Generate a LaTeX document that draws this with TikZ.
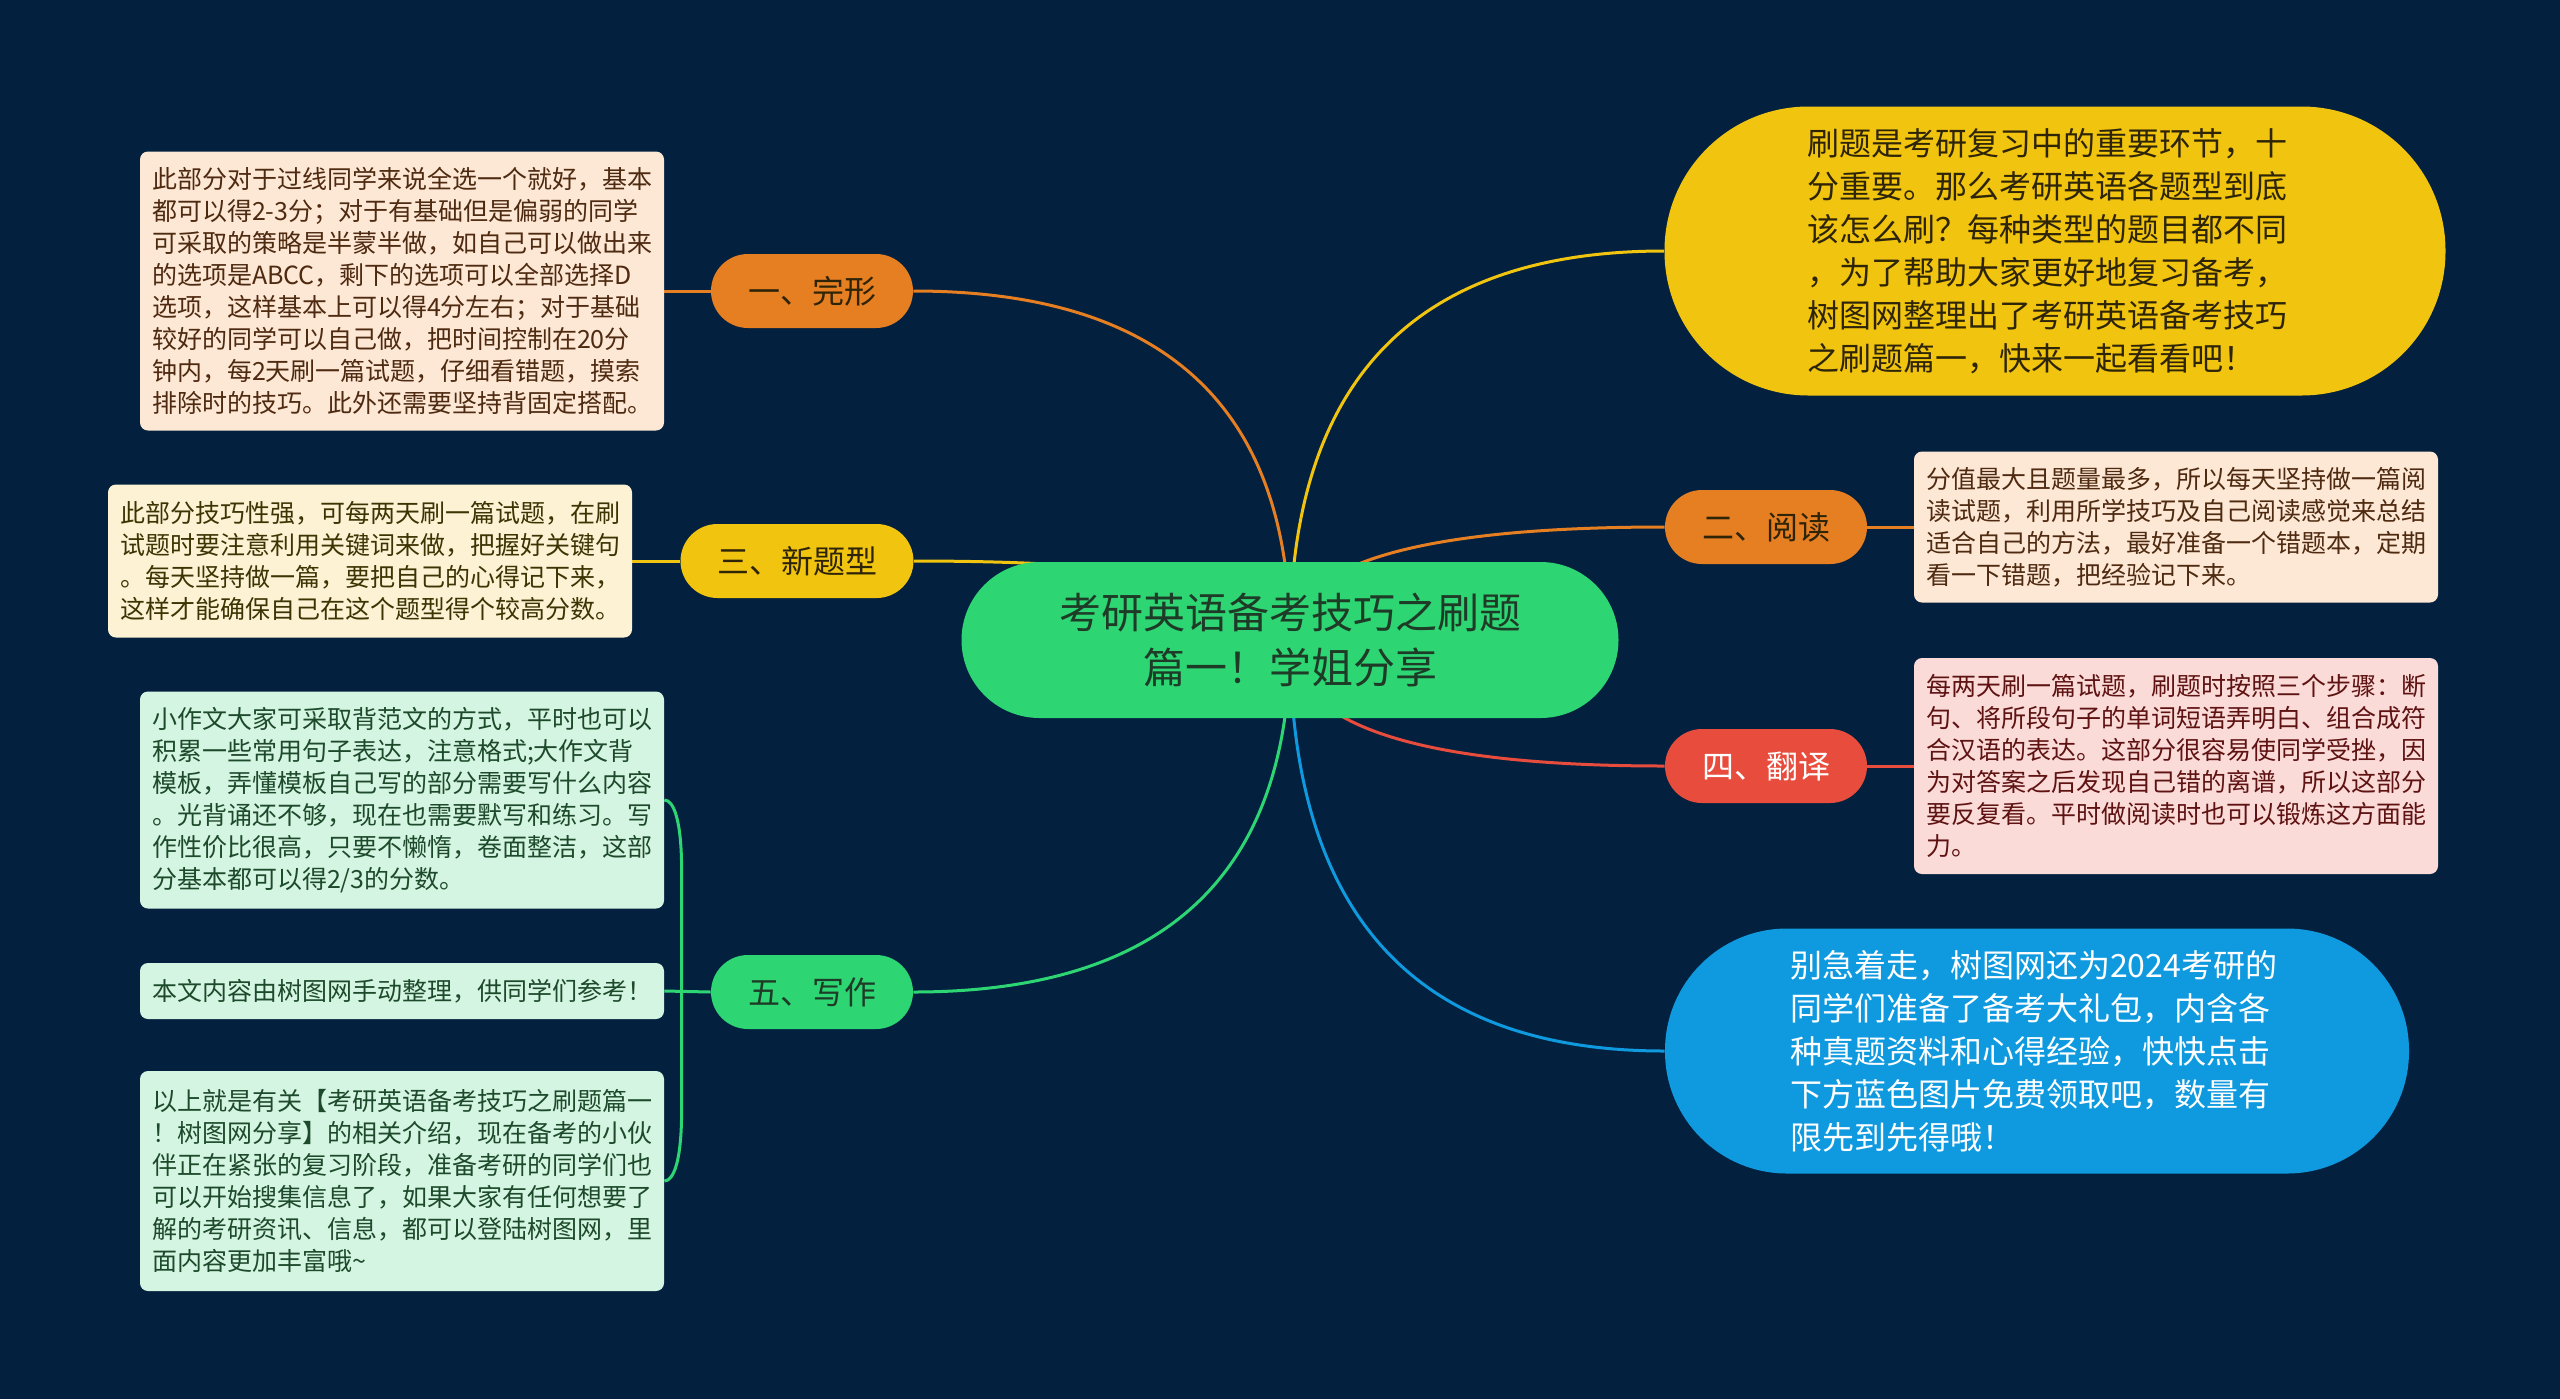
\documentclass[tikz,border=0pt]{standalone}
\usepackage{fontspec}
\newfontfamily\cjk{Noto Sans CJK SC}
\usetikzlibrary{calc,backgrounds}
\definecolor{bgc}{HTML}{03213F}
\definecolor{oran}{HTML}{E67E22}
\definecolor{yelw}{HTML}{F1C40F}
\definecolor{gren}{HTML}{2ED573}
\definecolor{redd}{HTML}{E74C3C}
\definecolor{blueb}{HTML}{0F9ADF}
\definecolor{peach}{HTML}{FDE7D5}
\definecolor{cream}{HTML}{FDF3D4}
\definecolor{pinkb}{HTML}{FADBD8}
\definecolor{mint}{HTML}{D5F5E3}
\definecolor{tpeach}{HTML}{4E2A10}
\definecolor{tcream}{HTML}{3D3404}
\definecolor{tpink}{HTML}{5E1212}
\definecolor{tmint}{HTML}{1D4A2B}
\definecolor{troot}{HTML}{1E3B27}
\definecolor{tdark}{HTML}{2E2408}
\tikzset{
  conn/.style={line width=1.5pt},
  qcurve/.style={to path={.. controls ($(\tikztostart)!0.667!(\tikztostart |- \tikztotarget)$) and ($(\tikztotarget)!0.667!(\tikztostart |- \tikztotarget)$) .. (\tikztotarget)}},
  lbl/.style={inner sep=0pt, minimum height=37pt, minimum width=101pt, rounded corners=18.5pt, font=\cjk\fontsize{16pt}{20pt}\selectfont},
  note/.style={inner xsep=6pt, inner ysep=0pt, text width=250pt, align=left, rounded corners=4pt, font=\cjk\fontsize{12.5pt}{16pt}\selectfont},
  bigpill/.style={inner sep=0pt, align=left, font=\cjk\fontsize{16pt}{21.5pt}\selectfont},
}
\begin{document}
\begin{tikzpicture}[x=0.5pt,y=-0.5pt]
\useasboundingbox (0,0) rectangle (2560,1399);
% root
\node[inner sep=0pt, fill=gren, minimum width=328.5pt, minimum height=78pt, rounded corners=39pt, align=center, text=troot, font=\cjk\fontsize{21pt}{27.5pt}\selectfont] (root) at (1290,640) {考研英语备考技巧之刷题\\篇一！学姐分享};
% branches
\node[lbl, fill=oran, text=tdark] (b1) at (812,291) {一、完形};
\node[lbl, fill=yelw, text=tdark, minimum width=116.5pt] (b3) at (797,561) {三、新题型};
\node[lbl, fill=gren, text=troot] (b5) at (812,992) {五、写作};
\node[lbl, fill=oran, text=tdark] (b2) at (1766,527) {二、阅读};
\node[lbl, fill=redd, text=white] (b4) at (1766,766) {四、翻译};
\node[bigpill, fill=yelw, text=tdark, minimum width=390.5pt, minimum height=144.5pt, rounded corners=72pt, text width=248pt] (intro) at (2055,251) {刷题是考研复习中的重要环节，十\\分重要。那么考研英语各题型到底\\该怎么刷？每种类型的题目都不同\\，为了帮助大家更好地复习备考，\\树图网整理出了考研英语备考技巧\\之刷题篇一，快来一起看看吧！};
\node[bigpill, fill=blueb, text=white, minimum width=372pt, minimum height=122.5pt, rounded corners=61pt, text width=247pt] (gift) at (2037,1051) {别急着走，树图网还为2024考研的\\同学们准备了备考大礼包，内含各\\种真题资料和心得经验，快快点击\\下方蓝色图片免费领取吧，数量有\\限先到先得哦！};
% notes
\node[note, fill=peach, text=tpeach, minimum height=139.5pt] (n1) at (402,291) {此部分对于过线同学来说全选一个就好，基本\\都可以得2-3分；对于有基础但是偏弱的同学\\可采取的策略是半蒙半做，如自己可以做出来\\的选项是ABCC，剩下的选项可以全部选择D\\选项，这样基本上可以得4分左右；对于基础\\较好的同学可以自己做，把时间控制在20分\\钟内，每2天刷一篇试题，仔细看错题，摸索\\排除时的技巧。此外还需要坚持背固定搭配。};
\node[note, fill=cream, text=tcream, minimum height=76.5pt] (n3) at (370,561) {此部分技巧性强，可每两天刷一篇试题，在刷\\试题时要注意利用关键词来做，把握好关键句\\。每天坚持做一篇，要把自己的心得记下来，\\这样才能确保自己在这个题型得个较高分数。};
\node[note, fill=mint, text=tmint, minimum height=108.5pt] (n5a) at (402,800) {小作文大家可采取背范文的方式，平时也可以\\积累一些常用句子表达，注意格式;大作文背\\模板，弄懂模板自己写的部分需要写什么内容\\。光背诵还不够，现在也需要默写和练习。写\\作性价比很高，只要不懒惰，卷面整洁，这部\\分基本都可以得2/3的分数。};
\node[note, fill=mint, text=tmint, minimum height=28pt] (n5b) at (402,991) {本文内容由树图网手动整理，供同学们参考！};
\node[note, fill=mint, text=tmint, minimum height=110pt] (n5c) at (402,1181) {以上就是有关【考研英语备考技巧之刷题篇一\\！树图网分享】的相关介绍，现在备考的小伙\\伴正在紧张的复习阶段，准备考研的同学们也\\可以开始搜集信息了，如果大家有任何想要了\\解的考研资讯、信息，都可以登陆树图网，里\\面内容更加丰富哦\textasciitilde};
\node[note, fill=peach, text=tpeach, minimum height=75.5pt] (n2) at (2176,527) {分值最大且题量最多，所以每天坚持做一篇阅\\读试题，利用所学技巧及自己阅读感觉来总结\\适合自己的方法，最好准备一个错题本，定期\\看一下错题，把经验记下来。};
\node[note, fill=pinkb, text=tpink, minimum height=108pt] (n4) at (2176,766) {每两天刷一篇试题，刷题时按照三个步骤：断\\句、将所段句子的单词短语弄明白、组合成符\\合汉语的表达。这部分很容易使同学受挫，因\\为对答案之后发现自己错的离谱，所以这部分\\要反复看。平时做阅读时也可以锻炼这方面能\\力。};
\coordinate (wj) at ($(b5.west)+(-29,0)$);
\begin{pgfonlayer}{background}
\fill[bgc] (0,0) rectangle (2560,1399);
\draw[conn,oran] (root.center) to[qcurve] (b1.east);
\draw[conn,yelw] (root.center) to[qcurve] (b3.east);
\draw[conn,gren] (root.center) to[qcurve] (b5.east);
\draw[conn,yelw] (root.center) to[qcurve] (intro.west);
\draw[conn,oran] (root.center) to[qcurve] (b2.west);
\draw[conn,redd] (root.center) to[qcurve] (b4.west);
\draw[conn,blueb] (root.center) to[qcurve] (gift.west);
\draw[conn,oran] (b1.west) -- (n1.east);
\draw[conn,yelw] (b3.west) -- (n3.east);
\draw[conn,oran] (b2.east) -- (n2.west);
\draw[conn,redd] (b4.east) -- (n4.west);
\draw[conn,gren] (b5.west) -- (n5b.east);
\draw[conn,gren] (wj) -- ($(wj |- n5a.east)+(0,70)$) .. controls ($(wj |- n5a.east)+(0,20)$) and ($(wj |- n5a.east)+(-8,0)$) .. (n5a.east);
\draw[conn,gren] (wj) -- ($(wj |- n5c.east)+(0,-70)$) .. controls ($(wj |- n5c.east)+(0,-20)$) and ($(wj |- n5c.east)+(-8,0)$) .. (n5c.east);
\end{pgfonlayer}
\end{tikzpicture}
\end{document}
